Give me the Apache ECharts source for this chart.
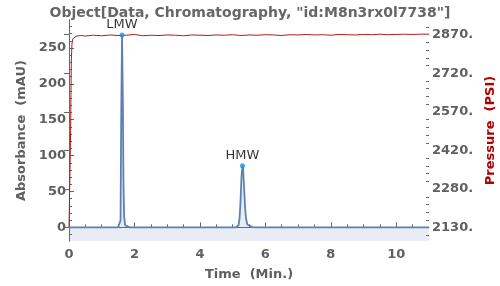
<!DOCTYPE html>
<html><head><meta charset="utf-8">
<script src="https://cdn.jsdelivr.net/npm/echarts@6/dist/echarts.min.js"></script>
<style>html,body{margin:0;padding:0;background:#fff}#c{width:500px;height:286px}</style>
</head><body><div id="c"></div>
<script>
const titleText = 'Object[Data, Chromatography, "id:M8n3rx0l7738"]';
const absTime  = [0, 1.50, 1.555, 1.575, 1.595, 1.62, 1.645, 1.665, 1.685, 1.715, 1.76, 1.85, 5.10, 5.15, 5.18, 5.21, 5.24, 5.27, 5.30, 5.32, 5.35, 5.38, 5.41, 5.45, 5.50, 5.60, 5.70, 11];
const absValue = [0, 0,    0.5,   10,    150,   268,  180,   60,    15,    3,     0.5,  0,    0,    0.5,  3,    12,   35,   70,   86,   82,   55,   28,   12,   4,    1.5,  0.3,  0,    0];
const pressTime  = [0, 0.03, 0.05, 0.07, 0.09, 0.12, 0.16, 0.22, 0.35, 0.5, 0.75, 1.0, 1.25, 1.5, 1.75, 2.0, 2.25, 2.5, 2.75, 3.0, 3.25, 3.5, 3.75, 4.0, 4.25, 4.5, 4.75, 5.0, 5.25, 5.5, 5.75, 6.0, 6.25, 6.5, 6.75, 7.0, 7.25, 7.5, 7.75, 8.0, 8.25, 8.5, 8.75, 9.0, 9.25, 9.5, 9.75, 10.0, 10.25, 10.5, 10.75, 11.0];
const pressValue = [2130, 2132, 2500, 2760, 2830, 2850, 2857, 2859, 2862, 2860, 2863, 2861, 2864, 2862, 2863, 2866, 2861, 2863, 2862, 2864, 2863, 2861, 2864, 2863, 2862, 2864, 2863, 2865, 2862, 2864, 2863, 2865, 2864, 2862, 2865, 2864, 2866, 2864, 2865, 2863, 2866, 2865, 2864, 2866, 2865, 2867, 2865, 2866, 2867, 2866, 2867, 2867];
const peakNames = ['LMW', 'HMW'];
const peakTime  = [1.62, 5.30];
const peakValue = [268, 86];
const xTickValues = [0, 2, 4, 6, 8, 10];
const xMinorTicks = [0.5, 1, 1.5, 2.5, 3, 3.5, 4.5, 5, 5.5, 6.5, 7, 7.5, 8.5, 9, 9.5, 10.5];
const absTickValues = [0, 50, 100, 150, 200, 250];
const absMinorTicks = [-10, 10, 20, 30, 40, 60, 70, 80, 90, 110, 120, 130, 140, 160, 170, 180, 190, 210, 220, 230, 240, 260, 270, 280];
const pressTickValues = [2130, 2277, 2424, 2571, 2718, 2865];
const pressTickLabels = ['2130.', '2280.', '2420.', '2570.', '2720.', '2870.'];
const pressMinorTicks = [2100.6, 2159.4, 2188.8, 2218.2, 2247.6, 2306.4, 2335.8, 2365.2, 2394.6, 2453.4, 2482.8, 2512.2, 2541.6, 2600.4, 2629.8, 2659.2, 2688.6, 2747.4, 2776.8, 2806.2, 2835.6, 2894.4];

const F = 'DejaVu Sans';
const axisCol = '#666666';
const labCol = '#5f5f5f';
const X = [0, 11], YL = [-19, 289], YR = [2079.4, 2921];

const chart = echarts.init(document.getElementById('c'), null, {renderer: 'canvas'});
const baseLabel = {fontFamily: F, fontWeight: 'bold', fontSize: 13, color: labCol};
chart.setOption({
  animation: false,
  title: {text: titleText, left: 'center', top: 1, textStyle: {fontFamily: F, fontWeight: 'bold', fontSize: 14, color: '#666'}},
  grid: {left: 69, right: 71, top: 20, bottom: 45, containLabel: false, outerBoundsMode: 'none'},
  xAxis: [
    {type: 'value', min: X[0], max: X[1], position: 'bottom',
     name: 'Time  (Min.)', nameLocation: 'middle', nameGap: 27,
     nameTextStyle: {fontFamily: F, fontWeight: 'bold', fontSize: 13, color: labCol},
     axisLine: {lineStyle: {color: axisCol, width: 1}},
     axisTick: {inside: true, length: 5, customValues: xTickValues, lineStyle: {color: axisCol}},
     axisLabel: Object.assign({customValues: xTickValues, margin: 7}, baseLabel),
     splitLine: {show: false}},
    {type: 'value', min: X[0], max: X[1], position: 'bottom',
     axisLine: {show: false},
     axisTick: {inside: true, length: 3, customValues: xMinorTicks, lineStyle: {color: axisCol}},
     axisLabel: {show: false}, splitLine: {show: false}}
  ],
  yAxis: [
    {type: 'value', min: YL[0], max: YL[1], position: 'left',
     name: 'Absorbance  (mAU)', nameLocation: 'middle', nameGap: 40, nameRotate: 90,
     nameTextStyle: {fontFamily: F, fontWeight: 'bold', fontSize: 13, color: labCol},
     axisLine: {show: true, lineStyle: {color: axisCol, width: 1}},
     axisTick: {show: true, inside: true, length: 5, customValues: absTickValues, lineStyle: {color: axisCol}},
     axisLabel: Object.assign({customValues: absTickValues, margin: 3}, baseLabel),
     splitLine: {show: false}},
    {type: 'value', min: YR[0], max: YR[1], position: 'right',
     name: 'Pressure  (PSI)', nameLocation: 'middle', nameGap: 54, nameRotate: 90,
     nameTextStyle: {fontFamily: F, fontWeight: 'bold', fontSize: 13, color: '#b00000'},
     axisLine: {show: true, lineStyle: {color: axisCol, width: 1}},
     axisTick: {show: true, inside: true, length: 5, customValues: pressTickValues, lineStyle: {color: axisCol}},
     axisLabel: Object.assign({customValues: pressTickValues, margin: 3,
       formatter: v => { const i = pressTickValues.indexOf(v); return i >= 0 ? pressTickLabels[i] : ''; }}, baseLabel),
     splitLine: {show: false}},
    {type: 'value', min: YL[0], max: YL[1], position: 'left',
     axisLine: {show: false},
     axisTick: {show: true, inside: true, length: 3, customValues: absMinorTicks, lineStyle: {color: axisCol}},
     axisLabel: {show: false}, splitLine: {show: false}},
    {type: 'value', min: YR[0], max: YR[1], position: 'right',
     axisLine: {show: false},
     axisTick: {show: true, inside: true, length: 3, customValues: pressMinorTicks, lineStyle: {color: axisCol}},
     axisLabel: {show: false}, splitLine: {show: false}}
  ],
  series: [
    {type: 'line', xAxisIndex: 0, yAxisIndex: 0, showSymbol: false, symbol: 'none',
     data: absTime.map((t, i) => [t, absValue[i]]),
     lineStyle: {color: '#5e81b5', width: 1.8},
     areaStyle: {color: 'rgba(94,129,181,0.2)', origin: 'start'}, z: 3},
    {type: 'line', xAxisIndex: 0, yAxisIndex: 1, showSymbol: false, symbol: 'none',
     data: pressTime.map((t, i) => [t, pressValue[i]]),
     lineStyle: {color: '#b5191a', width: 1}, z: 2},
    {type: 'scatter', xAxisIndex: 0, yAxisIndex: 0, symbolSize: 5,
     itemStyle: {color: '#1e8cf0'},
     data: peakTime.map((t, i) => ({name: peakNames[i], value: [t, peakValue[i]]})),
     label: {show: true, position: 'top', distance: 1, formatter: p => p.name,
       fontFamily: F, fontSize: 13, color: '#000'}, z: 5}
  ]
});
</script></body></html>
